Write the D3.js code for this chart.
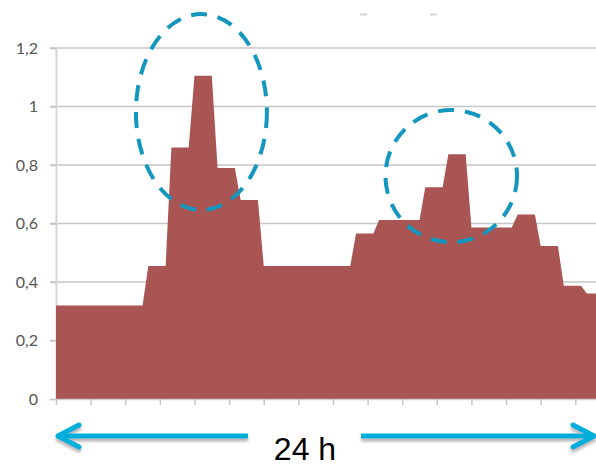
<!DOCTYPE html>
<html>
<head>
<meta charset="utf-8">
<script src="https://cdn.jsdelivr.net/npm/d3@7"></script>
<style>
	body { margin: 0; background: #fff; }
	svg { display: block; }
</style>
</head>
<body>
<div id="chart"></div>
<script>
// 15-minute slots over 24 h (96 points)
var slotValues = [
	0.32, 0.32, 0.32, 0.32, 0.32, 0.32, 0.32, 0.32,
	0.32, 0.32, 0.32, 0.32, 0.32, 0.32, 0.32, 0.32,
	0.455, 0.455, 0.455, 0.455,
	0.86, 0.86, 0.86, 0.86,
	1.105, 1.105, 1.105, 1.105,
	0.79, 0.79, 0.79, 0.79,
	0.68, 0.68, 0.68, 0.68,
	0.455, 0.455, 0.455, 0.455, 0.455, 0.455, 0.455, 0.455,
	0.455, 0.455, 0.455, 0.455, 0.455, 0.455, 0.455, 0.455,
	0.566, 0.566, 0.566, 0.566,
	0.612, 0.612, 0.612, 0.612, 0.612, 0.612, 0.612, 0.612,
	0.724, 0.724, 0.724, 0.724,
	0.837, 0.837, 0.837, 0.837,
	0.586, 0.586, 0.586, 0.586, 0.586, 0.586, 0.586, 0.586,
	0.631, 0.631, 0.631, 0.631,
	0.523, 0.523, 0.523, 0.523,
	0.387, 0.387, 0.387, 0.387,
	0.361, 0.361, 0.361, 0.361
];
var yTickValues = [0, 0.2, 0.4, 0.6, 0.8, 1, 1.2];
var xTickValues = [0, 6, 12, 18, 24, 30, 36, 42, 48, 54, 60, 66, 72, 78, 84, 90, 96];
var spanLabel = "24 h";

// highlighted peaks: centre (slot, value) and radii (slots, value)
var peakSlots = [25.2, 68.5];
var peakLevels = [0.981, 0.762];
var peakRadiusSlots = [11.35, 11.4];
var peakRadiusLevels = [0.335, 0.226];

var width = 596,
	height = 467,
	slotWidth = 5.77;

var x = d3.scaleLinear().domain([0, 96]).range([56, 56 + 96 * slotWidth]),
	y = d3.scaleLinear().domain([0, 1.2]).range([399, 48]);

var svg = d3.select("#chart").append("svg")
	.attr("width", width)
	.attr("height", height)
	.style("background", "#fff");

var defs = svg.append("defs");
defs.append("clipPath").attr("id", "plotclip")
  .append("rect").attr("x", 0).attr("y", 0).attr("width", width).attr("height", height);
defs.append("filter").attr("id", "shadow")
	.attr("x", "-5%").attr("y", "-100%").attr("width", "110%").attr("height", "400%")
  .append("feDropShadow")
	.attr("dx", 0).attr("dy", 3).attr("stdDeviation", 1.5)
	.attr("flood-color", "#777").attr("flood-opacity", 0.55);

// gridlines
svg.append("g")
	.attr("class", "grid")
  .selectAll("line")
	.data(yTickValues.filter(function(d) { return d > 0; }))
  .enter().append("line")
	.attr("x1", x(0) - 6)
	.attr("x2", width)
	.attr("y1", function(d) { return y(d); })
	.attr("y2", function(d) { return y(d); })
	.attr("stroke", "#c6c6c8")
	.attr("stroke-width", 1.6);

// y axis
var yAxis = svg.append("g")
	.attr("transform", "translate(" + x(0) + ",0)")
	.call(d3.axisLeft(y)
		.tickValues(yTickValues)
		.tickSize(6)
		.tickSizeOuter(0)
		.tickPadding(12)
		.tickFormat(function(d) { return String(+d.toFixed(1)).replace(".", ","); }));
yAxis.select(".domain").attr("stroke", "#d6d6d8").attr("stroke-width", 2);
yAxis.selectAll(".tick line").attr("stroke", "#c6c6c8").attr("stroke-width", 1.6);
yAxis.selectAll(".tick text")
	.style("font-family", "Lato, 'Open Sans', sans-serif")
	.style("font-size", "16px")
	.attr("fill", "#555");

// area
var area = d3.area()
	.x(function(d, i) { return x(i); })
	.y0(y(0))
	.y1(function(d) { return y(d); });

svg.append("path")
	.datum(slotValues)
	.attr("clip-path", "url(#plotclip)")
	.attr("d", area)
	.attr("fill", "#a85553");

// x axis
var xAxis = svg.append("g")
	.attr("transform", "translate(0," + y(0) + ")")
	.call(d3.axisBottom(x)
		.tickValues(xTickValues)
		.tickSize(6)
		.tickSizeOuter(0)
		.tickFormat(""));
xAxis.select(".domain").attr("stroke", "#cfcfd2").attr("stroke-width", 1.5);
xAxis.selectAll(".tick line").attr("stroke", "#c6c6c8").attr("stroke-width", 1.5);

// faint remnants at the top
svg.append("g").selectAll("line")
	.data([360, 430])
  .enter().append("line")
	.attr("x1", function(d) { return d; })
	.attr("x2", function(d) { return d + 7; })
	.attr("y1", 14.5).attr("y2", 14.5)
	.attr("stroke", "#d4d4d4")
	.attr("stroke-width", 2);

// dashed highlight ellipses
svg.append("g").selectAll("ellipse")
	.data(peakSlots)
  .enter().append("ellipse")
	.attr("cx", function(d) { return x(d); })
	.attr("cy", function(d, i) { return y(peakLevels[i]); })
	.attr("rx", function(d, i) { return x(peakRadiusSlots[i]) - x(0); })
	.attr("ry", function(d, i) { return y(0) - y(peakRadiusLevels[i]); })
	.attr("fill", "none")
	.attr("stroke", "#1497bf")
	.attr("stroke-width", 4)
	.attr("stroke-dasharray", "16,11");

// 24 h span arrow
var arrowY = 436,
	arrowLeft = x(0) + 1,
	arrowRight = width - 1,
	arrowColor = "#00aedb";

var arrows = svg.append("g")
	.attr("filter", "url(#shadow)")
	.attr("stroke", arrowColor)
	.attr("stroke-width", 5)
	.attr("fill", "none")
	.attr("stroke-linecap", "round")
	.attr("stroke-linejoin", "round");

arrows.append("line")
	.attr("x1", arrowLeft).attr("x2", 248)
	.attr("y1", arrowY).attr("y2", arrowY)
	.attr("stroke-linecap", "butt");
arrows.append("path")
	.attr("d", "M" + (arrowLeft + 22) + "," + (arrowY - 11) + "L" + (arrowLeft + 1) + "," + arrowY + "L" + (arrowLeft + 22) + "," + (arrowY + 11));
arrows.append("line")
	.attr("x1", 361).attr("x2", arrowRight)
	.attr("y1", arrowY).attr("y2", arrowY)
	.attr("stroke-linecap", "butt");
arrows.append("path")
	.attr("d", "M" + (arrowRight - 22) + "," + (arrowY - 11) + "L" + (arrowRight - 1) + "," + arrowY + "L" + (arrowRight - 22) + "," + (arrowY + 11));

svg.append("text")
	.attr("x", 305)
	.attr("y", 460)
	.attr("text-anchor", "middle")
	.style("font-family", "'Liberation Sans', Arial, sans-serif")
	.style("font-size", "32px")
	.attr("fill", "#000")
	.text(spanLabel);
</script>
</body>
</html>
